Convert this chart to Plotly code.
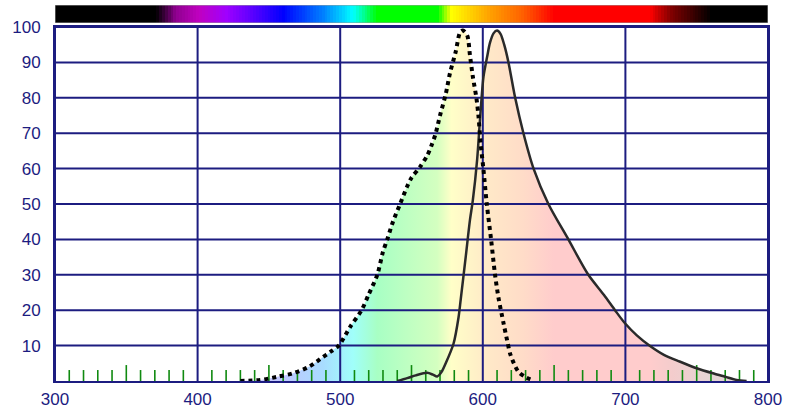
import plotly.graph_objects as go
import numpy as np

# Excitation spectrum (dotted)
ex_wl = [430, 444, 456, 467, 478, 488, 493, 499, 507, 515, 520, 526, 530, 533, 537, 542,
         547, 550, 556, 561, 564, 567, 570, 574, 577, 581, 584, 586, 589, 591, 593, 595.5,
         597, 598.5, 600.4, 602.8, 605.8, 608.6, 611, 614.5, 617, 619.5, 625, 630, 635]
ex_val = [0, 0.3, 1.2, 2.2, 4.0, 6.8, 8.2, 10, 15.3, 20, 24.5, 30, 36.5, 40, 45, 50,
          55, 57.4, 60.5, 63.7, 66.5, 70, 75, 81, 87, 93, 98.4, 99, 97.7, 92, 86, 80,
          74.7, 67, 60, 50, 40, 30, 23.5, 16.4, 11.6, 7.3, 2.6, 1.1, 0.2]

# Emission spectrum (solid)
em_wl = [540, 547, 553, 561, 565, 568, 571, 574, 579.5, 583, 584.5, 588, 591, 593, 596, 598,
         600.5, 603, 605, 607.5, 610, 612.5, 615, 618, 622.7, 628.5, 635.6, 646, 660, 674,
         685, 692.7, 699.7, 708, 717.3, 727, 738, 750, 762, 770, 778, 785]
em_val = [0, 0.8, 1.6, 2.3, 1.8, 1.3, 2.5, 5, 10.6, 18, 23, 35, 45.5, 51, 62.4, 73.7,
          86, 91.5, 95.5, 98.2, 99, 98, 95, 90, 80, 70, 60, 50, 40, 30,
          24.3, 20.0, 16.3, 12.9, 9.9, 7.4, 5.5, 3.6, 2.1, 1.2, 0.3, 0]

# Axis ticks
x_tickvals = [300, 400, 500, 600, 700, 800]
x_ticktext = ["300", "400", "500", "600", "700", "800"]
y_tickvals = [10, 20, 30, 40, 50, 60, 70, 80, 90, 100]
y_ticktext = ["10", "20", "30", "40", "50", "60", "70", "80", "90", "100"]

# Spectrum colour stops (wavelength -> bar colour, pastel fill colour)
spec_wl = [300, 371, 385, 401, 420, 437, 460, 488, 509, 526, 568, 578, 605, 628, 650, 717, 732, 760, 800]
spec_col = ['#000000', '#000000', '#900090', '#c000c0', '#a000ff', '#6000ff', '#0000ff', '#0080ff',
            '#00ffff', '#00ff00', '#00ff00', '#ffff00', '#ffa000', '#ff6000', '#ff0000', '#ff0000',
            '#800000', '#000000', '#000000']
fill_col = ['#d8d8d8', '#d8d8d8', '#e4c8e4', '#ecc8f0', '#dcc8fa', '#ccc8fc', '#bfc8ff', '#a8dcff',
            '#a0fffa', '#a8ffc4', '#d4ffc0', '#ffffc8', '#ffe8c8', '#ffdcc8', '#ffcccc', '#ffcccc',
            '#f4cccc', '#e4d4d4', '#e4d4d4']

# Green minor tick marks along the bottom
minor_wl = [w for w in range(310, 800, 10) if w % 100 != 0]
minor_h = [4.5 if w % 100 == 50 else 3.1 for w in minor_wl]

NAVY = '#1c1c80'
FONT = "Liberation Sans, Arial, sans-serif"

wmin, wmax = 300, 800
ymin, ymax = 0, 100
cs = [[(w - wmin) / (wmax - wmin), c] for w, c in zip(spec_wl, spec_col)]
cs_fill = [[(w - wmin) / (wmax - wmin), c] for w, c in zip(spec_wl, fill_col)]

fig = go.Figure()

# Spectrum bar
bar_x = np.arange(wmin, wmax + 1, 2)
fig.add_trace(go.Heatmap(x=bar_x, y=[0], z=[bar_x], colorscale=cs, zmin=wmin, zmax=wmax,
                         showscale=False, xaxis='x2', yaxis='y2', hoverinfo='skip'))

# Fills (opaque pastel, emission on top)
for wl, val in ((ex_wl, ex_val), (em_wl, em_val)):
    fig.add_trace(go.Scatter(x=wl, y=val, mode='lines', line=dict(width=0, shape='spline', smoothing=0.8),
                             fill='tozeroy',
                             fillgradient=dict(type='horizontal', colorscale=cs_fill, start=wmin, stop=wmax),
                             hoverinfo='skip', showlegend=False))

# Grid lines (drawn above fills)
gx, gy = [], []
for v in x_tickvals:
    gx += [v, v, None]
    gy += [ymin, ymax, None]
for v in y_tickvals:
    gx += [wmin, wmax, None]
    gy += [v, v, None]
fig.add_trace(go.Scatter(x=gx, y=gy, mode='lines', line=dict(color=NAVY, width=2),
                         hoverinfo='skip', showlegend=False))

# Green tick marks
tx, ty = [], []
for w, h in zip(minor_wl, minor_h):
    tx += [w, w, None]
    ty += [0, h, None]
fig.add_trace(go.Scatter(x=tx, y=ty, mode='lines', line=dict(color='#108a10', width=1.6),
                         hoverinfo='skip', showlegend=False))

# Curves
fig.add_trace(go.Scatter(x=em_wl, y=em_val, mode='lines',
                         line=dict(color='#2a2a2a', width=2.5, shape='spline', smoothing=0.8),
                         showlegend=False, name='Emission'))
fig.add_trace(go.Scatter(x=ex_wl, y=ex_val, mode='lines',
                         line=dict(color='#000000', width=4, dash='4px,4px', shape='spline', smoothing=0.8),
                         showlegend=False, name='Excitation'))

main_top = 354 / 376
fig.update_layout(
    width=790, height=408,
    margin=dict(l=55, r=22, t=5, b=27),
    paper_bgcolor='white', plot_bgcolor='white',
    showlegend=False,
    font=dict(family=FONT, size=17, color=NAVY),
    xaxis=dict(range=[wmin, wmax], tickvals=x_tickvals, ticktext=x_ticktext,
               showgrid=False, zeroline=False, automargin=False,
               showline=True, linecolor=NAVY, linewidth=2, mirror=True,
               ticks='', ticklen=0, ticklabelstandoff=2, domain=[0, 1], anchor='y'),
    yaxis=dict(range=[ymin, ymax], tickvals=y_tickvals, ticktext=y_ticktext,
               showgrid=False, zeroline=False, automargin=False,
               showline=True, linecolor=NAVY, linewidth=2, mirror=True,
               ticks='', ticklen=0, ticklabelstandoff=9, domain=[0, main_top], anchor='x'),
    xaxis2=dict(range=[wmin, wmax], visible=False, anchor='y2', domain=[0, 1], automargin=False),
    yaxis2=dict(range=[-0.5, 0.5], visible=False, domain=[358 / 376, 1], anchor='x2', automargin=False),
)

fig.add_shape(type='rect', xref='x2', yref='y2', x0=wmin, x1=wmax, y0=-0.5, y1=0.5,
              line=dict(color='#9a9a9a', width=1))

fig.write_html("out.html", config={'displayModeBar': False},
               post_script="document.body.style.margin='0';")
